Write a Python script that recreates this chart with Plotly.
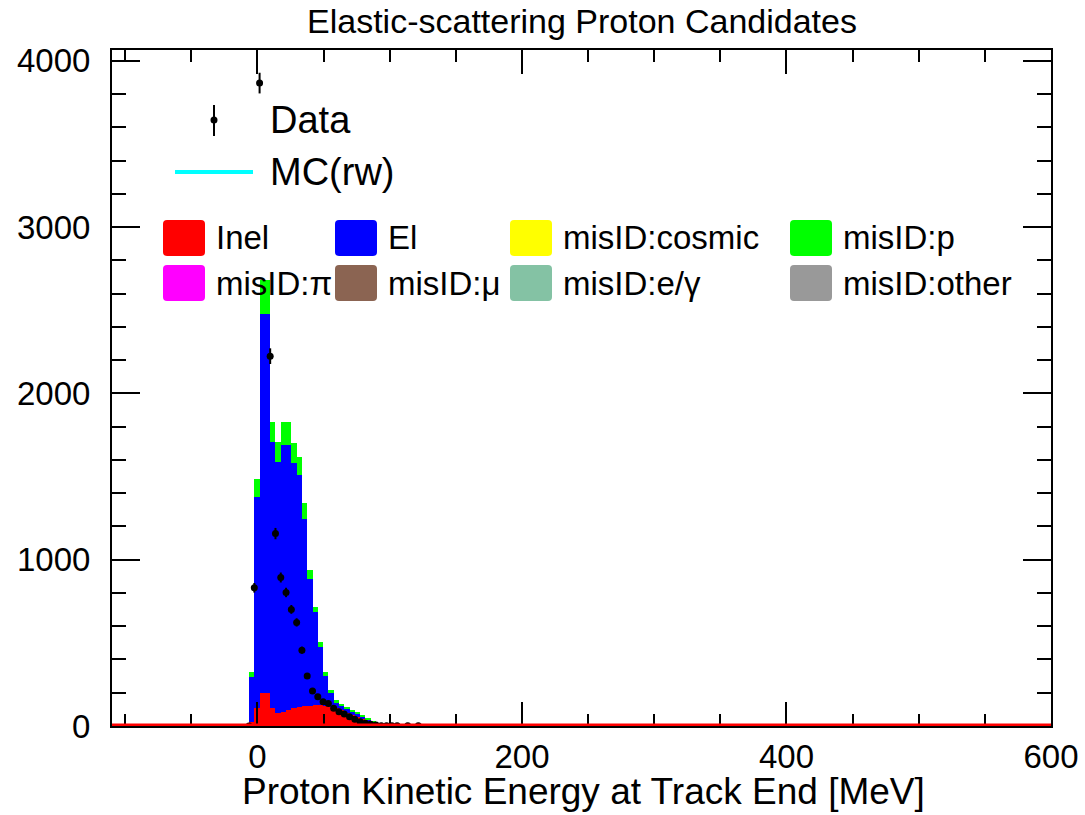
import numpy as np
import plotly.graph_objects as go

# ---------------- data ----------------
# MC stacked histogram (4 MeV bins), bin centres in MeV
mc_centers = [-4.4, -0.4, 3.6, 7.6, 11.6, 15.6, 19.6, 23.6, 27.6, 31.6, 35.6, 39.6, 43.6,
              47.6, 51.6, 55.6, 59.6, 63.6, 67.6, 71.6, 75.6, 79.6, 83.6, 87.6, 91.6, 95.6]
inel = [26, 106, 196, 196, 106, 76, 86, 96, 106, 116, 122, 122, 126,
        126, 120, 114, 108, 96, 81, 66, 52, 40, 26, 16, 6, 3]
el = [266, 1271, 2284, 2284, 1601, 1509, 1602, 1592, 1475, 1392, 1125, 761, 557,
      347, 180, 84, 36, 27, 27, 24, 26, 20, 16, 6, 6, 1]
misid_p = [30, 111, 200, 200, 119, 122, 138, 138, 121, 109, 91, 54, 34,
           35, 26, 18, 12, 9, 8, 6, 6, 6, 6, 4, 3, 2]

# Data points
data_x = [-6.4, -2.4, 1.6, 9.6, 13.6, 17.6, 21.6, 25.6, 29.6, 33.6, 37.6, 41.6, 45.6,
          49.6, 53.6, 57.6, 61.6, 65.6, 69.6, 73.6, 77.6, 81.6, 85.6, 89.6, 93.6,
          97.6, 101.6, 105.6, 113.6, 121.6]
data_y = [0, 831, 3866, 2224, 1157, 893, 803, 701, 623, 456, 300, 210, 176,
          146, 136, 106, 86, 72, 56, 40, 26, 16, 10, 6, 2,
          1, 1, 1, 1, 1]

BIN_W = 4
XMIN, XMAX = -110, 600
YMIN, YMAX = 0, 4065

legend_boxes = [
    ("Inel", "#ff0000"), ("El", "#0000ff"), ("misID:cosmic", "#ffff00"), ("misID:p", "#00ff00"),
    ("misID:π", "#ff00ff"), ("misID:μ", "#8b6452"), ("misID:e/γ", "#84c2a4"), ("misID:other", "#999999"),
]

# ---------------- figure ----------------
W, H = 1085, 815
L, R, T, B = 112, 1051, 50, 726
FONT = "Liberation Sans"


def px(x):
    return (x - L) / (R - L)


def py(y):
    return (B - y) / (B - T)


def rounded_rect(x0, y0, x1, y1, r):
    # pixel coords (y downwards) -> SVG path in paper coords
    pts = [
        f"M {px(x0 + r)},{py(y0)}",
        f"L {px(x1 - r)},{py(y0)}",
        f"Q {px(x1)},{py(y0)} {px(x1)},{py(y0 + r)}",
        f"L {px(x1)},{py(y1 - r)}",
        f"Q {px(x1)},{py(y1)} {px(x1 - r)},{py(y1)}",
        f"L {px(x0 + r)},{py(y1)}",
        f"Q {px(x0)},{py(y1)} {px(x0)},{py(y1 - r)}",
        f"L {px(x0)},{py(y0 + r)}",
        f"Q {px(x0)},{py(y0)} {px(x0 + r)},{py(y0)}",
        "Z",
    ]
    return " ".join(pts)


fig = go.Figure()
fig.add_trace(go.Bar(x=mc_centers, y=inel, width=BIN_W, marker=dict(color="#ff0000", line=dict(width=0)),
                     name="Inel", showlegend=False))
fig.add_trace(go.Bar(x=mc_centers, y=el, width=BIN_W, marker=dict(color="#0000ff", line=dict(width=0)),
                     name="El", showlegend=False))
fig.add_trace(go.Bar(x=mc_centers, y=misid_p, width=BIN_W, marker=dict(color="#00ff00", line=dict(width=0)),
                     name="misID:p", showlegend=False))

dy = np.sqrt(np.array(data_y, dtype=float))
fig.add_trace(go.Scatter(x=data_x, y=data_y, mode="markers", name="Data", showlegend=False,
                         marker=dict(color="black", size=7),
                         error_y=dict(type="data", array=dy, color="black", thickness=2, width=0),
                         cliponaxis=True))

shapes = []
annotations = []
# Red Inel baseline across the axis
shapes.append(dict(type="line", xref="x domain", yref="y", x0=0, x1=1, y0=0, y1=0,
                   line=dict(color="#ff0000", width=5), layer="above"))

# Legend: Data
shapes.append(dict(type="line", xref="paper", yref="paper", x0=px(214), x1=px(214), y0=py(105), y1=py(136),
                   line=dict(color="black", width=2)))
shapes.append(dict(type="circle", xref="paper", yref="paper", x0=px(210.5), x1=px(217.5), y0=py(116.5), y1=py(123.5),
                   line=dict(color="black", width=0), fillcolor="black"))
annotations.append(dict(text="Data", xref="paper", yref="paper", x=px(268), y=py(120), xanchor="left",
                        yanchor="middle", showarrow=False, font=dict(family=FONT, size=38, color="black")))
# Legend: MC(rw)
shapes.append(dict(type="line", xref="paper", yref="paper", x0=px(175), x1=px(253), y0=py(172), y1=py(172),
                   line=dict(color="#00ffff", width=4)))
annotations.append(dict(text="MC(rw)", xref="paper", yref="paper", x=px(268), y=py(172), xanchor="left",
                        yanchor="middle", showarrow=False, font=dict(family=FONT, size=38, color="black")))

col_box = [163, 335, 510, 790]
row_y = [238, 283]
for i, (lab, col) in enumerate(legend_boxes):
    r, c = divmod(i, 4)
    x0 = col_box[c]
    yc = row_y[r]
    shapes.append(dict(type="path", xref="paper", yref="paper",
                       path=rounded_rect(x0, yc - 18, x0 + 42, yc + 18, 4),
                       line=dict(width=0), fillcolor=col))
    annotations.append(dict(text=lab, xref="paper", yref="paper", x=px(x0 + 51), y=py(yc), xanchor="left",
                            yanchor="middle", showarrow=False, font=dict(family=FONT, size=33, color="black")))

# Axis title placed as annotation below the tick labels
annotations.append(dict(text="Proton Kinetic Energy at Track End [MeV]", xref="paper", yref="paper",
                        x=px(583), y=py(791), xanchor="center", yanchor="middle", showarrow=False,
                        font=dict(family=FONT, size=37, color="black")))

axis_common = dict(showline=True, linecolor="black", linewidth=2, mirror="allticks", ticks="inside",
                   tickcolor="black", tickwidth=1.5, showgrid=False, zeroline=False, automargin=False,
                   tickfont=dict(family=FONT, size=33, color="black"))

fig.update_layout(
    width=W, height=H, autosize=False,
    margin=dict(l=L, r=W - R, t=T, b=H - B, pad=0),
    plot_bgcolor="white", paper_bgcolor="white",
    barmode="stack", bargap=0,
    showlegend=False,
    title=dict(text="Elastic-scattering Proton Candidates", x=582 / W, xanchor="center",
               y=1 - 21 / H, yanchor="middle", yref="container", automargin=False,
               font=dict(family=FONT, size=34, color="black")),
    xaxis=dict(range=[XMIN, XMAX], tickmode="linear", tick0=0, dtick=200, ticklen=24,
               minor=dict(tickmode="linear", tick0=0, dtick=50, ticklen=12, ticks="inside",
                          tickcolor="black", tickwidth=1.5),
               ticklabelstandoff=0,
               **axis_common),
    yaxis=dict(range=[YMIN, YMAX], tickmode="linear", tick0=0, dtick=1000, ticklen=28,
               minor=dict(tickmode="linear", tick0=0, dtick=200, ticklen=14, ticks="inside",
                          tickcolor="black", tickwidth=1.5),
               ticklabelstandoff=13,
               **axis_common),
    shapes=shapes,
    annotations=annotations,
)

fig.write_html("out.html")
